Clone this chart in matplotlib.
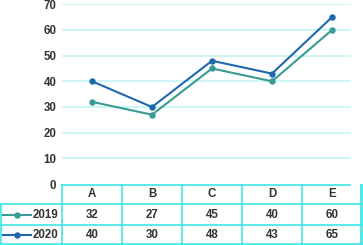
import matplotlib
matplotlib.use("Agg")
import matplotlib.pyplot as plt

categories = ['A', 'B', 'C', 'D', 'E']
series_names = ['2019', '2020']
values_2019 = [32, 27, 45, 40, 60]
values_2020 = [40, 30, 48, 43, 65]
yticks = [0, 10, 20, 30, 40, 50, 60, 70]

colors = ['#3a9a94', '#1f68ad']
grid_color = '#c8f6f6'
border_color = '#3de6e6'
text_color = '#333333'

plt.rcParams['font.family'] = ['Liberation Sans', 'DejaVu Sans']

W, H = 363, 245
fig = plt.figure(figsize=(W / 100, H / 100), dpi=100)

# plot area in pixels
left, right, top, bottom = 62, 362, 4.3, 184
ax = fig.add_axes([left / W, (H - bottom) / H, (right - left) / W, (bottom - top) / H])
x = list(range(len(categories)))
ax.set_xlim(-0.5, len(categories) - 0.5)
ax.set_ylim(0, 70)
for y in yticks[1:]:
    ax.axhline(y, xmin=0, xmax=(350 - left) / (right - left), color=grid_color, lw=1.3, zorder=0)
for vals, c in zip([values_2019, values_2020], colors):
    ax.plot(x, vals, color=c, lw=1.5, marker='o', ms=3.6, zorder=3)
ax.set_yticks(yticks)
ax.set_yticklabels([str(v) for v in yticks], fontsize=8.3, fontweight='bold', color=text_color)
ax.set_xticks([])
ax.tick_params(axis='y', length=0, pad=4)
for s in ax.spines.values():
    s.set_visible(False)

# data table below
tab = fig.add_axes([0, 0, 1, (H - bottom) / H])
tab.set_xlim(0, W)
tab.set_ylim(H, bottom)
tab.axis('off')
col_w = (right - left) / len(categories)
row_h = (H - bottom) / 3
lw = 1.2
# header row
tab.plot([left, 350], [bottom + 0.5, bottom + 0.5], color=border_color, lw=lw)
for i in range(len(categories) + 1):
    xc = left + i * col_w
    tab.plot([xc, xc], [bottom, H - 0.8], color=border_color, lw=lw)
for r in (1, 2, 3):
    yr = bottom + r * row_h - (0.8 if r == 3 else 0)
    tab.plot([0.7, right], [yr, yr], color=border_color, lw=lw)
tab.plot([0.7, 0.7], [bottom + row_h, H - 0.8], color=border_color, lw=lw)
tab.plot([right - 0.7, right - 0.7], [bottom, H - 0.8], color=border_color, lw=lw)

for i, cat in enumerate(categories):
    tab.text(left + (i + 0.5) * col_w, bottom + 0.5 * row_h, cat, ha='center', va='center',
             fontsize=8.3, fontweight='bold', color=text_color)
for r, (name, vals, c) in enumerate(zip(series_names, [values_2019, values_2020], colors)):
    yc = bottom + (r + 1.5) * row_h
    tab.plot([3, 31], [yc, yc], color=c, lw=1.5)
    tab.plot([17], [yc], color=c, marker='o', ms=3.6)
    tab.text(58, yc, name, ha='right', va='center', fontsize=8.3, fontweight='bold', color=text_color)
    for i, v in enumerate(vals):
        tab.text(left + (i + 0.5) * col_w, yc, str(v), ha='center', va='center',
                 fontsize=8.3, fontweight='bold', color=text_color)

fig.savefig('out.png', dpi=100)
